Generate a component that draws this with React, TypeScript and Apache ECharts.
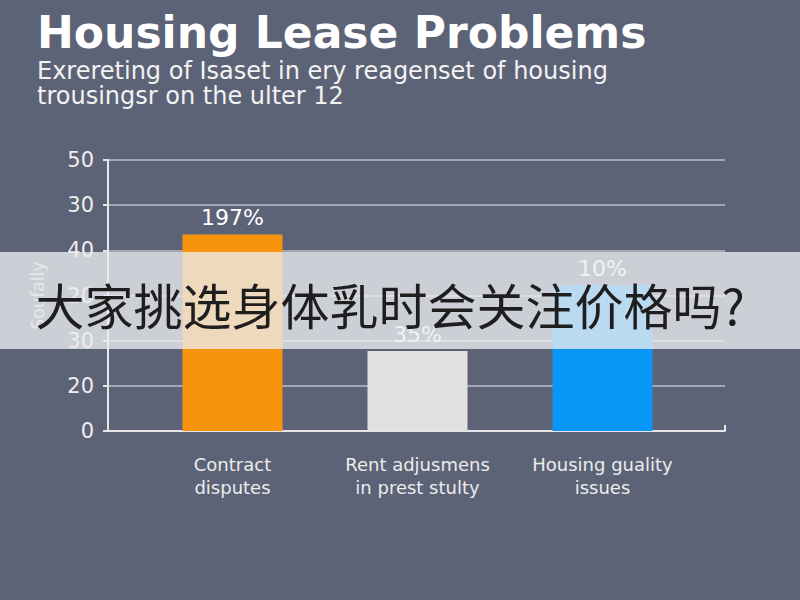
import React, { useEffect, useRef } from "react";
import * as echarts from "echarts";

const categories = ["Contract\ndisputes", "Rent adjusmens\nin prest stulty", "Housing guality\nissues"];
const values = [43.5, 17.7, 32.3];
const barLabels = ["197%", "35%", "10%"];
const barColors = ["#F7930C", "#E0E0E0", "#0A96F6"];
const yTickLabels = ["0", "20", "30", "20", "40", "30", "50"];
const titleText = "Housing Lease Problems";
const subtitleText = "Exrereting of Isaset in ery reagenset of housing\ntrousingsr on the ulter 12";
const yAxisName = "Soufally";
const bannerText = "大家挑选身体乳时会关注价格吗?";

export default function App() {
  const ref = useRef<HTMLDivElement>(null);
  useEffect(() => {
    if (!ref.current) return;
    const chart = echarts.init(ref.current, null, { renderer: "svg" });
    chart.setOption({
      animation: false,
      backgroundColor: "#5C6376",
      title: [
        {
          text: titleText,
          left: 32,
          top: 5,
          textStyle: { color: "#FFFFFF", fontSize: 44, fontWeight: "bold", fontFamily: "DejaVu Sans" },
        },
        {
          text: subtitleText,
          left: 32,
          top: 53,
          textStyle: { color: "#F2F2F2", fontSize: 24, fontWeight: 400, fontFamily: "DejaVu Sans", lineHeight: 25 },
        },
      ],
      grid: [
        { left: 108, right: 75, top: 160, bottom: 169 },
        { left: 140, right: 105, top: 160, bottom: 169 },
      ],
      xAxis: [
        {
          gridIndex: 0,
          type: "value",
          min: 0,
          max: 1,
          interval: 1,
          axisLine: { show: true, lineStyle: { color: "#E6E6EA", width: 2 } },
          axisTick: { show: true, inside: true, length: 6, lineStyle: { color: "#E6E6EA", width: 2 } },
          axisLabel: { show: false },
          splitLine: { show: false },
        },
        {
          gridIndex: 1,
          type: "category",
          data: categories,
          axisLine: { show: false },
          axisTick: { show: false },
          axisLabel: {
            interval: 0,
            hideOverlap: false,
            color: "#ECECEC",
            fontSize: 18,
            lineHeight: 23,
            margin: 22,
            fontFamily: "DejaVu Sans",
          },
        },
      ],
      yAxis: [
        {
          gridIndex: 0,
          type: "value",
          min: 0,
          max: 60,
          interval: 10,
          name: yAxisName,
          nameLocation: "middle",
          nameGap: 62,
          nameRotate: 90,
          nameTextStyle: { color: "#D8D8DC", fontSize: 17, fontFamily: "DejaVu Sans" },
          axisLine: { show: true, lineStyle: { color: "#E6E6EA", width: 2 } },
          axisTick: { show: true, length: 5, lineStyle: { color: "#E6E6EA", width: 2 } },
          axisLabel: {
            color: "#EEEEEE",
            fontSize: 21,
            margin: 14,
            fontFamily: "DejaVu Sans",
            formatter: (v: number) => yTickLabels[Math.round(v / 10)] ?? "",
          },
          splitLine: { show: true, lineStyle: { color: "#A3A7B4", width: 2 } },
        },
        {
          gridIndex: 1,
          type: "value",
          min: 0,
          max: 60,
          show: false,
        },
      ],
      series: [
        {
          type: "bar",
          xAxisIndex: 1,
          yAxisIndex: 1,
          barWidth: 100,
          data: values.map((v, i) => ({ value: v, itemStyle: { color: barColors[i] } })),
          label: {
            show: true,
            position: "top",
            distance: 6,
            color: "#FFFFFF",
            fontSize: 22,
            fontFamily: "DejaVu Sans",
            formatter: (p: any) => barLabels[p.dataIndex],
          },
        },
      ],
      graphic: [
        {
          type: "rect",
          z: 100,
          shape: { x: 0, y: 252, width: 800, height: 97 },
          style: { fill: "rgba(236,237,240,0.78)" },
        },
        {
          type: "text",
          z: 101,
          x: 390,
          y: 303,
          style: {
            text: bannerText,
            fill: "#1E1E1E",
            font: '49px "Noto Sans CJK SC"',
            textAlign: "center",
            textVerticalAlign: "middle",
          },
        },
      ],
    });
    return () => chart.dispose();
  }, []);
  return <div ref={ref} style={{ position: "absolute", left: 0, top: 0, width: 800, height: 600 }} />;
}
